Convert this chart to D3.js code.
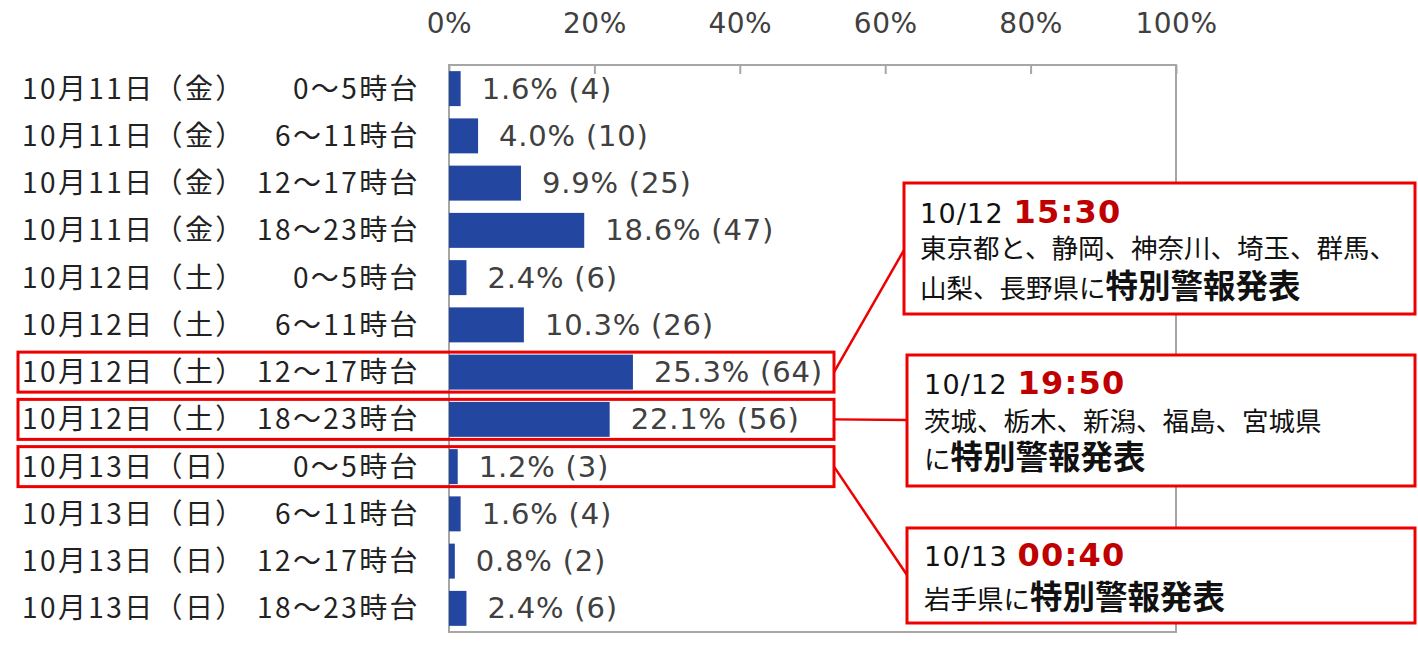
<!DOCTYPE html>
<html>
<head>
<meta charset="utf-8">
<script src="https://cdn.jsdelivr.net/npm/d3@7"></script>
<style>
  body { margin: 0; background: #fff; }
  svg { display: block; }
</style>
</head>
<body>
<script>
// data
var dates = ["10月11日（金）", "10月11日（金）", "10月11日（金）", "10月11日（金）",
             "10月12日（土）", "10月12日（土）", "10月12日（土）", "10月12日（土）",
             "10月13日（日）", "10月13日（日）", "10月13日（日）", "10月13日（日）"];
var hours = ["0～5時台", "6～11時台", "12～17時台", "18～23時台",
             "0～5時台", "6～11時台", "12～17時台", "18～23時台",
             "0～5時台", "6～11時台", "12～17時台", "18～23時台"];
var percents = [1.6, 4.0, 9.9, 18.6, 2.4, 10.3, 25.3, 22.1, 1.2, 1.6, 0.8, 2.4];
var counts = [4, 10, 25, 47, 6, 26, 64, 56, 3, 4, 2, 6];
var tickValues = [0, 20, 40, 60, 80, 100];

var highlightRows = [6, 7, 8];
var calloutTimes = ["10/12", "10/12", "10/13"];
var calloutClock = ["15:30", "19:50", "00:40"];
var calloutLines = [
  [["東京都と、静岡、神奈川、埼玉、群馬、", ""], ["山梨、長野県に", "特別警報発表"]],
  [["茨城、栃木、新潟、福島、宮城県", ""], ["に", "特別警報発表"]],
  [["岩手県に", "特別警報発表"]]
];

var width = 1418, height = 645;
var plotL = 449, plotR = 1176, plotT = 65, plotB = 632;
var jp = "'Noto Sans CJK JP', sans-serif";
var lat = "'DejaVu Sans', Verdana, sans-serif";

var svg = d3.select("body").append("svg")
    .attr("width", width).attr("height", height);

var x = d3.scaleLinear().domain([0, 100]).range([plotL, plotR]);
var y = d3.scaleBand().domain(d3.range(percents.length))
    .range([plotT, plotB]).paddingInner(0.26).paddingOuter(0.13);

// plot frame
svg.append("rect")
    .attr("x", plotL).attr("y", plotT)
    .attr("width", plotR - plotL).attr("height", plotB - plotT)
    .attr("fill", "none").attr("stroke", "#a6a6a6").attr("stroke-width", 2);

// top axis, ticks pointing into the plot
var axis = svg.append("g")
    .attr("transform", "translate(0," + plotT + ")")
    .call(d3.axisTop(x).tickValues(tickValues)
        .tickFormat(function (d) { return d + "%"; })
        .tickSizeInner(-9).tickSizeOuter(0).tickPadding(32));
axis.select(".domain").remove();
axis.selectAll("line").attr("stroke", "#a6a6a6").attr("stroke-width", 2);
axis.selectAll("text")
    .attr("font-family", lat).attr("font-size", 28).attr("letter-spacing", 0.5)
    .attr("fill", "#404040");

// bars
svg.append("g").selectAll("rect").data(percents).enter().append("rect")
    .attr("x", x(0))
    .attr("y", function (d, i) { return y(i); })
    .attr("width", function (d) { return x(d) - x(0); })
    .attr("height", y.bandwidth())
    .attr("fill", "#2346a0");

// value labels
svg.append("g").selectAll("text").data(percents).enter().append("text")
    .attr("x", function (d) { return x(d) + 21; })
    .attr("y", function (d, i) { return y(i) + y.bandwidth() / 2 + 10; })
    .attr("font-family", lat).attr("font-size", 29).attr("letter-spacing", 0.8)
    .attr("fill", "#404040")
    .text(function (d, i) { return d.toFixed(1) + "% (" + counts[i] + ")"; });

// category labels
var cats = svg.append("g").attr("font-family", jp).attr("font-size", 28)
    .attr("letter-spacing", 2.4).attr("fill", "#222");
cats.selectAll("text.date").data(dates).enter().append("text")
    .attr("class", "date")
    .attr("x", 22)
    .attr("y", function (d, i) { return y(i) + y.bandwidth() / 2 + 10; })
    .text(function (d) { return d; });
cats.selectAll("text.hour").data(hours).enter().append("text")
    .attr("class", "hour")
    .attr("x", 420).attr("text-anchor", "end")
    .attr("y", function (d, i) { return y(i) + y.bandwidth() / 2 + 10; })
    .text(function (d) { return d; });

// highlight boxes around rows
var red = "#ee0000";
var rowMid = function (i) { return y(i) + y.bandwidth() / 2; };
svg.append("g").selectAll("rect").data(highlightRows).enter().append("rect")
    .attr("x", 18).attr("y", function (d) { return rowMid(d) - 20; })
    .attr("width", 816).attr("height", 40)
    .attr("fill", "none").attr("stroke", red).attr("stroke-width", 3);

// callout boxes
var boxes = [
  {x: 904, y: 183, w: 511, h: 131, tx: 920, lines: [223, 258, 298], hook: 250},
  {x: 907, y: 355, w: 508, h: 131, tx: 924, lines: [394, 431, 469], hook: 420},
  {x: 907, y: 528, w: 508, h: 95, tx: 924, lines: [566, 609], hook: 575}
];

svg.append("g").selectAll("line").data(highlightRows).enter().append("line")
    .attr("x1", 834).attr("y1", function (d) { return rowMid(d); })
    .attr("x2", function (d, i) { return boxes[i].x; })
    .attr("y2", function (d, i) { return boxes[i].hook; })
    .attr("stroke", red).attr("stroke-width", 2.5);

var cg = svg.append("g").selectAll("g").data(boxes).enter().append("g");
cg.append("rect")
    .attr("x", function (d) { return d.x; }).attr("y", function (d) { return d.y; })
    .attr("width", function (d) { return d.w; }).attr("height", function (d) { return d.h; })
    .attr("fill", "#fff").attr("stroke", red).attr("stroke-width", 3);

cg.each(function (b, i) {
  var g = d3.select(this);
  var t = g.append("text").attr("x", b.tx).attr("y", b.lines[0]).attr("font-family", lat);
  t.append("tspan").attr("font-size", 27).attr("letter-spacing", 1.2).attr("fill", "#111")
      .text(calloutTimes[i] + " ");
  t.append("tspan").attr("font-size", 32).attr("letter-spacing", 1.2).attr("font-weight", "bold")
      .attr("fill", "#c00000").text(calloutClock[i]);
  calloutLines[i].forEach(function (ln, k) {
    var tl = g.append("text").attr("x", b.tx).attr("y", b.lines[k + 1])
        .attr("font-family", jp).attr("fill", "#111");
    tl.append("tspan").attr("font-size", 26.5).text(ln[0]);
    if (ln[1]) tl.append("tspan").attr("font-size", 32.5).attr("font-weight", "bold").text(ln[1]);
  });
});
</script>
</body>
</html>
